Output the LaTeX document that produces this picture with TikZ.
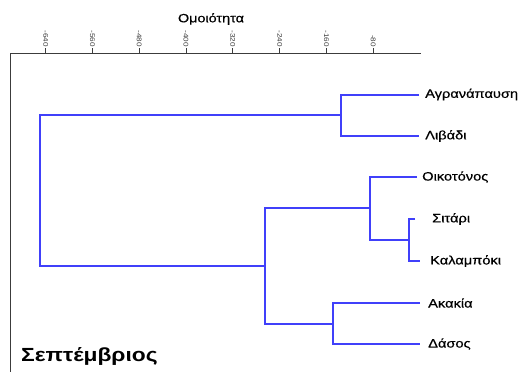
\documentclass[tikz,border=0pt]{standalone}
\usepackage{fontspec}
\setmainfont{Liberation Sans}[FakeStretch=1.2]
\newfontfamily\labelfont{Liberation Sans}[FakeStretch=1.2,FakeBold=0.5]
\definecolor{dendro}{RGB}{64,64,250}
\definecolor{frame}{RGB}{60,60,60}
\begin{document}
\begin{tikzpicture}[x=1pt,y=-1pt,
  link/.style={draw=dendro, line width=1.1pt},
  framel/.style={draw=frame, line width=0.9pt},
  leaf/.style={anchor=west, inner sep=0pt, font=\labelfont\fontsize{12.2}{14}\selectfont},
  ticklabel/.style={rotate=-90, anchor=east, inner sep=0pt, text=frame, font=\fontsize{6.8}{7}\selectfont}]
\path[use as bounding box] (0,0) rectangle (528,372);
% frame / axis
\draw[framel] (10,372) -- (10,53) -- (421,53);
\foreach \v in {640,560,480,400,320,240,160,80}{
  \draw[framel, line width=0.7pt] ({420-0.585*\v},48) -- ({420-0.585*\v},53);
  \node[ticklabel] (t\v) at ({420-0.585*\v},47) {-\v};
}
\node[font=\labelfont\fontsize{12}{14}\selectfont] (title) at (211,19) {Ομοιότητα};
\node[anchor=west, inner sep=0pt, font=\fontsize{19}{22}\bfseries] (month) at (21,356) {Σεπτέμβριος};
% leaves
\node[leaf] (agr) at (425,94.5) {Αγρανάπαυση};
\node[leaf] (liv) at (425,136) {Λιβάδι};
\node[leaf] (oik) at (422,177) {Οικοτόνος};
\node[leaf] (sit) at (432,219) {Σιτάρι};
\node[leaf] (kal) at (430,261) {Καλαμπόκι};
\node[leaf] (aka) at (428,303) {Ακακία};
\node[leaf] (das) at (428,344) {Δάσος};
% leaf line ends
\coordinate (eagr) at (419,95);
\coordinate (eliv) at (419,136);
\coordinate (eoik) at (417,177);
\coordinate (esit) at (415,219);
\coordinate (ekal) at (420,261);
\coordinate (eaka) at (420,303);
\coordinate (edas) at (420,344);
% junctions
\coordinate (jA) at (341,115);
\coordinate (jB) at (409,240);
\coordinate (jC) at (370,208);
\coordinate (jD) at (333,324);
\coordinate (jE) at (265,266);
\coordinate (jR) at (40,190);
\draw[link] (eagr) -| (jA) |- (eliv);
\draw[link] (esit) -| (jB) |- (ekal);
\draw[link] (eoik) -| (jC) |- (jB);
\draw[link] (eaka) -| (jD) |- (edas);
\draw[link] (jC) -| (jE) |- (jD);
\draw[link] (jA) -| (jR) |- (jE);
\end{tikzpicture}
\end{document}
